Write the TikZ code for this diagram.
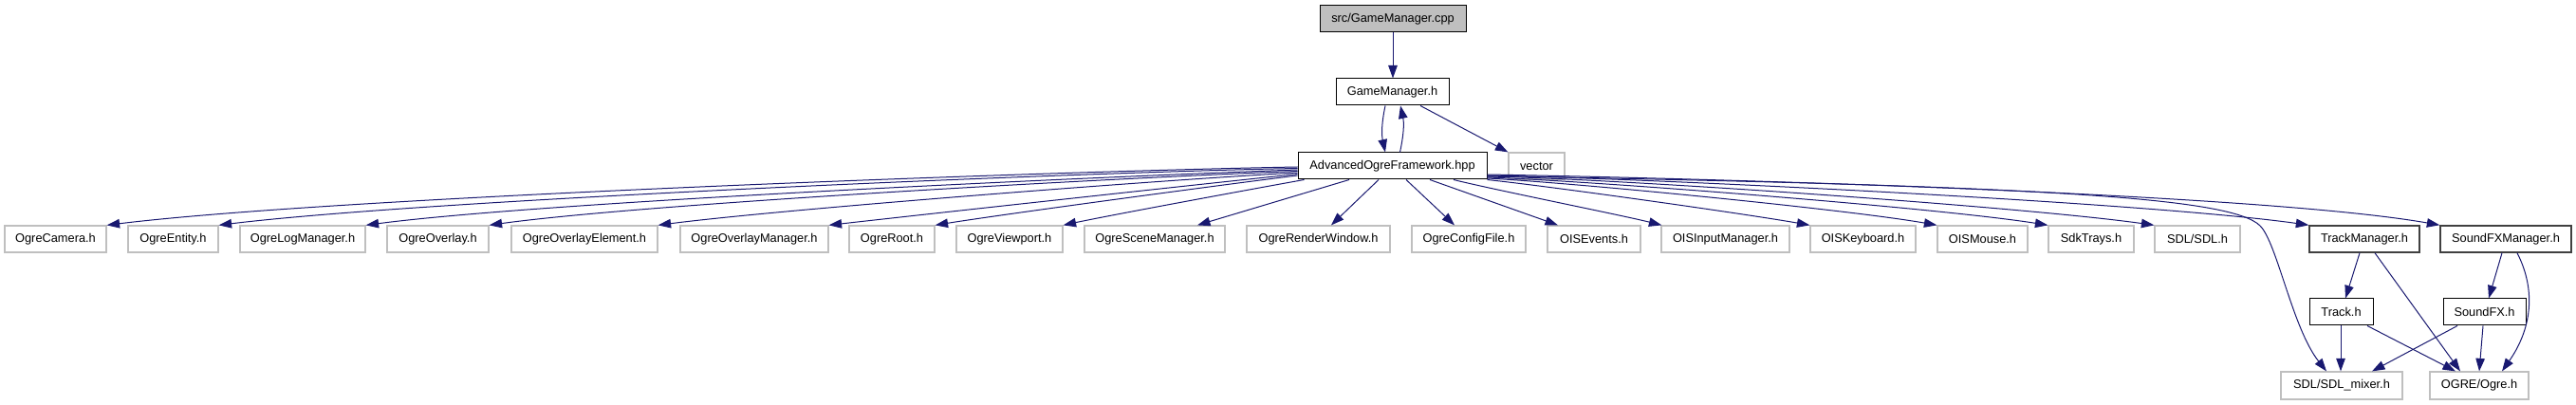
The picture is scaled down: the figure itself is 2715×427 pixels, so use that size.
\documentclass[tikz,border=0pt]{standalone}
\usepackage{fontspec}
\setmainfont{Liberation Sans}
\usetikzlibrary{arrows.meta}
\definecolor{edgeblue}{HTML}{191970}
\definecolor{lgray}{HTML}{BFBFBF}
\definecolor{dgray}{HTML}{404040}
\tikzset{
  box/.style={draw=black, fill=white, minimum height=28pt, inner sep=0pt, text=black, line width=1pt,
    font={\fontsize{12.8pt}{14pt}\selectfont}},
  extbox/.style={box, draw=lgray, line width=1.2pt},
  darkbox/.style={box, draw=dgray, line width=1.4pt},
  dep/.style={draw=edgeblue, line width=1pt, -{Triangle[length=13.5pt,width=9.5pt]}},
}
\begin{document}
\begin{tikzpicture}[x=1pt,y=1pt]
\path[fill=white] (0,0) rectangle (2715,-427);
\useasboundingbox (0,0) rectangle (2715,-427);

% top
\node[box, fill=lgray, minimum width=154pt] (cpp) at (1468,-20) {src/GameManager.cpp};
\node[box, minimum width=119pt] (gmh) at (1467.5,-97) {GameManager.h};
\node[box, minimum width=199pt] (aof) at (1467.5,-175) {AdvancedOgreFramework.hpp};
\node[extbox, minimum width=59pt] (vec) at (1619.5,-175) {vector};

% row
\node[extbox, minimum width=107pt] (cam) at (58.5,-252) {OgreCamera.h};
\node[extbox, minimum width=95pt] (ent) at (182.5,-252) {OgreEntity.h};
\node[extbox, minimum width=132pt] (log) at (319,-252) {OgreLogManager.h};
\node[extbox, minimum width=107pt] (ovl) at (461.5,-252) {OgreOverlay.h};
\node[extbox, minimum width=154pt] (ove) at (616,-252) {OgreOverlayElement.h};
\node[extbox, minimum width=156pt] (ovm) at (795,-252) {OgreOverlayManager.h};
\node[extbox, minimum width=90pt] (root) at (940,-252) {OgreRoot.h};
\node[extbox, minimum width=112pt] (vp) at (1064,-252) {OgreViewport.h};
\node[extbox, minimum width=148pt] (scm) at (1217,-252) {OgreSceneManager.h};
\node[extbox, minimum width=151pt] (rw) at (1389.5,-252) {OgreRenderWindow.h};
\node[extbox, minimum width=120pt] (cfg) at (1548,-252) {OgreConfigFile.h};
\node[extbox, minimum width=98pt] (oev) at (1680,-252) {OISEvents.h};
\node[extbox, minimum width=135pt] (oim) at (1818.5,-252) {OISInputManager.h};
\node[extbox, minimum width=111pt] (okb) at (1963.5,-252) {OISKeyboard.h};
\node[extbox, minimum width=95pt] (oms) at (2089.5,-252) {OISMouse.h};
\node[extbox, minimum width=90pt] (sdk) at (2204,-252) {SdkTrays.h};
\node[extbox, minimum width=90pt] (sdl) at (2316,-252) {SDL/SDL.h};
\node[darkbox, minimum width=116pt] (tm) at (2492,-252) {TrackManager.h};
\node[darkbox, minimum width=138pt] (sfm) at (2641,-252) {SoundFXManager.h};

% lower
\node[box, minimum width=67pt] (trk) at (2467.5,-329) {Track.h};
\node[box, minimum width=87pt] (sfx) at (2618.5,-329) {SoundFX.h};
\node[extbox, minimum width=128pt, minimum height=29pt] (mix) at (2468,-406.5) {SDL/SDL\_mixer.h};
\node[extbox, minimum width=104pt, minimum height=29pt] (ogre) at (2613,-406.5) {OGRE/Ogre.h};

% top edges
\draw[dep] (cpp.south) -- (cpp.south |- gmh.north);
\draw[dep] ([xshift=-7.5pt]gmh.south) to[out=-102,in=102] ([xshift=-7.5pt]aof.north);
\draw[dep] ([xshift=8pt]aof.north) to[out=78,in=-78] ([xshift=8.5pt]gmh.south);
\draw[dep] ([xshift=29.5pt]gmh.south) -- (vec.north west);

% left fan
\draw[dep] ([yshift=-1pt]aof.west) .. controls +(-246,-4.3) and +(244,30) .. (cam.north east);
\draw[dep] ([yshift=-2.5pt]aof.west) .. controls +(-223,-3.9) and +(221,27) .. (ent.north east);
\draw[dep] ([yshift=-4pt]aof.west) .. controls +(-193,-6.7) and +(191,25) .. (log.north east);
\draw[dep] ([yshift=-5.5pt]aof.west) .. controls +(-168,-5.9) and +(166,23) .. (ovl.north east);
\draw[dep] ([yshift=-7pt]aof.west) .. controls +(-133,-7) and +(132,17) .. (ove.north east);
\draw[dep] ([yshift=-8.5pt]aof.west) .. controls +(-97.5,-10.2) and +(97,11) .. (ovm.north east);
\draw[dep] ([yshift=-10pt]aof.west) .. controls +(-75.4,-9.3) and +(75,12) .. (root.north east);
\draw[dep] ([xshift=7pt]aof.south west) .. controls +(-50,-8.9) and +(50,10.6) .. (vp.north east);
\draw[dep] ([xshift=-45.5pt]aof.south) -- ([xshift=45pt]scm.north);
\draw[dep] ([xshift=-14.5pt]aof.south) -- ([xshift=13.5pt]rw.north);
\draw[dep] ([xshift=14.5pt]aof.south) -- ([xshift=-15pt]cfg.north);
\draw[dep] ([xshift=39.5pt]aof.south) -- ([xshift=-38pt]oev.north);
\draw[dep] ([xshift=64.5pt]aof.south) .. controls +(42.7,-10.6) and +(-42.7,10.6) .. ([xshift=1pt]oim.north west);

% right fan
\draw[dep] (aof.south east) .. controls +(67.6,-7.1) and +(-67,11.8) .. (okb.north west);
\draw[dep] ([yshift=-13pt]aof.east) .. controls +(94,-4.9) and +(-92.6,16.3) .. (oms.north west);
\draw[dep] ([yshift=-12pt]aof.east) .. controls +(116,-4) and +(-114.6,18.1) .. (sdk.north west);
\draw[dep] ([yshift=-11pt]aof.east) .. controls +(138,-2.4) and +(-136.7,19.2) .. (sdl.north west);
\draw[dep] ([yshift=-10pt]aof.east) .. controls +(170,-3) and +(-168.3,23.7) .. (tm.north west);
\draw[dep] ([yshift=-9pt]aof.east) .. controls +(197,-3.4) and +(-194,34) .. (sfm.north west);
\draw[dep] ([yshift=-10.5pt]aof.east) .. controls (2150,-196) and (2352,-208) .. (2382,-238)
   .. controls (2400,-256) and (2416,-346) .. ([xshift=-16pt]mix.north);

% lower edges
\draw[dep] ([xshift=-5pt]tm.south) -- ([xshift=4.5pt]trk.north);
\draw[dep] ([xshift=11pt]tm.south) -- ([xshift=-20pt]ogre.north);
\draw[dep] ([xshift=-4pt]sfm.south) -- ([xshift=4.5pt]sfx.north);
\draw[dep] ([xshift=12pt]sfm.south) to[out=-63,in=55] ([xshift=24pt]ogre.north);
\draw[dep] ([xshift=-0.5pt]trk.south) -- ([xshift=-1pt]mix.north);
\draw[dep] ([xshift=27.5pt]trk.south) -- ([xshift=-25pt]ogre.north);
\draw[dep] ([xshift=-28.5pt]sfx.south) -- ([xshift=32pt]mix.north);
\draw[dep] ([xshift=-1.5pt]sfx.south) -- (ogre.north);
\end{tikzpicture}
\end{document}
